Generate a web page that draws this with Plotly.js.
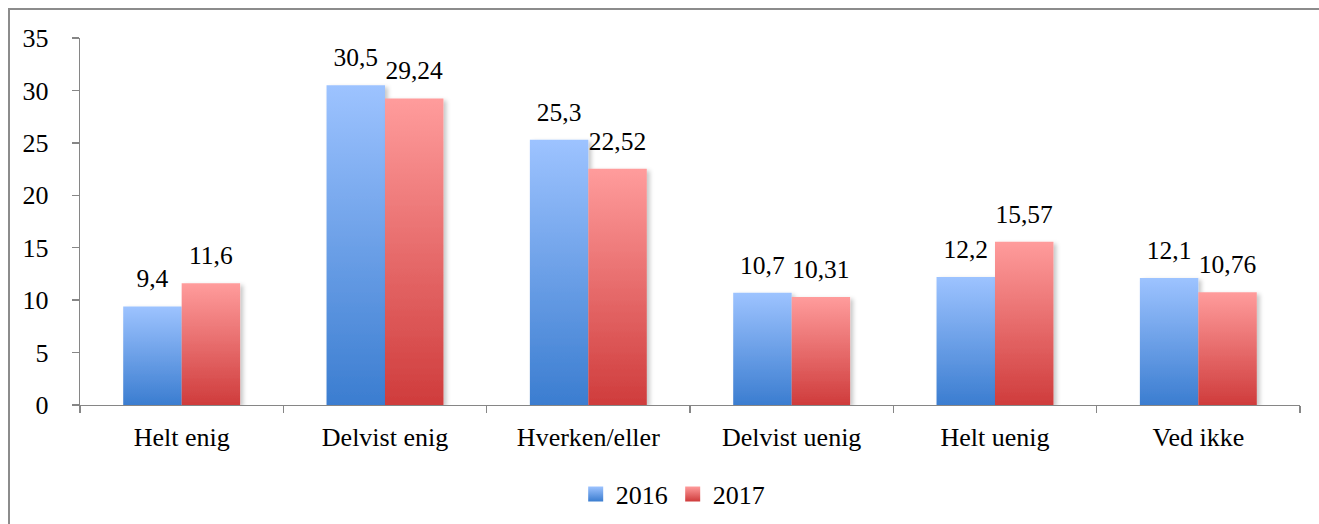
<!DOCTYPE html>
<html>
<head>
<meta charset="utf-8">
<script src="https://cdn.plot.ly/plotly-3.0.1.min.js"></script>
<style>
  html, body { margin: 0; padding: 0; background: #fff; }
  #chart { width: 1319px; height: 524px; }
</style>
</head>
<body>
<div id="chart"></div>
<script>
var categories = ["Helt enig", "Delvist enig", "Hverken/eller", "Delvist uenig", "Helt uenig", "Ved ikke"];
var values2016 = [9.4, 30.5, 25.3, 10.7, 12.2, 12.1];
var values2017 = [11.6, 29.24, 22.52, 10.31, 15.57, 10.76];
var seriesNames = ["2016", "2017"];
var yTicks = [0, 5, 10, 15, 20, 25, 30, 35];

var FONT = "Liberation Serif, Times New Roman, serif";

var traces = [
  {
    type: "bar", name: seriesNames[0], x: categories, y: values2016,
    marker: { color: "#6A9BE8" },
    texttemplate: "%{y}", textposition: "outside", cliponaxis: false,
    textfont: { family: FONT, size: 25.5, color: "#000" },
    hoverinfo: "x+y"
  },
  {
    type: "bar", name: seriesNames[1], x: categories, y: values2017,
    marker: { color: "#E86A6A" },
    texttemplate: "%{y}", textposition: "outside", cliponaxis: false,
    textfont: { family: FONT, size: 25.5, color: "#000" },
    hoverinfo: "x+y"
  }
];

var layout = {
  width: 1319, height: 524,
  margin: { l: 80, r: 19, t: 38, b: 119 },
  paper_bgcolor: "#fff", plot_bgcolor: "#fff",
  separators: ",.",
  barmode: "group", bargap: 0.425, bargroupgap: 0,
  font: { family: FONT, size: 25, color: "#000" },
  showlegend: true,
  legend: {
    orientation: "h", x: 0.51, xanchor: "center", xref: "container",
    y: 30 / 524, yanchor: "middle", yref: "container",
    font: { family: FONT, size: 26, color: "#000" },
    itemwidth: 30, tracegroupgap: 0
  },
  xaxis: {
    type: "category",
    showline: true, linecolor: "#868686", linewidth: 1.3,
    ticks: "outside", tickson: "boundaries", ticklen: 7, tickcolor: "#868686", tickwidth: 1.3,
    showgrid: false, zeroline: false,
    tickfont: { family: FONT, size: 26, color: "#000" },
    ticklabelstandoff: 8,
    fixedrange: true
  },
  yaxis: {
    range: [0, 35], tickvals: yTicks,
    showline: true, linecolor: "#868686", linewidth: 1.3,
    ticks: "outside", ticklen: 7, tickcolor: "#868686", tickwidth: 1.3,
    showgrid: false, zeroline: false,
    tickfont: { family: FONT, size: 26, color: "#000" },
    ticklabelstandoff: 18,
    fixedrange: true
  },
  shapes: [
    {
      type: "rect", xref: "paper", yref: "paper",
      x0: (9 - 80) / 1220, x1: (1340 - 80) / 1220,
      y0: (405 - 560) / 367, y1: (405 - 9) / 367,
      line: { color: "#8C8C8C", width: 2 }, fillcolor: "rgba(0,0,0,0)", layer: "below"
    }
  ]
};

Plotly.newPlot("chart", traces, layout, { displayModeBar: false, staticPlot: true }).then(function (gd) {
  var svg = gd.querySelector("svg.main-svg");
  var ns = "http://www.w3.org/2000/svg";
  var defs = svg.querySelector("defs") || svg.insertBefore(document.createElementNS(ns, "defs"), svg.firstChild);
  function grad(id, top, bottom) {
    var g = document.createElementNS(ns, "linearGradient");
    g.setAttribute("id", id);
    g.setAttribute("x1", "0"); g.setAttribute("y1", "0");
    g.setAttribute("x2", "0"); g.setAttribute("y2", "1");
    var s1 = document.createElementNS(ns, "stop");
    s1.setAttribute("offset", "0"); s1.setAttribute("stop-color", top);
    var s2 = document.createElementNS(ns, "stop");
    s2.setAttribute("offset", "1"); s2.setAttribute("stop-color", bottom);
    g.appendChild(s1); g.appendChild(s2);
    defs.appendChild(g);
  }
  grad("gradBlue", "#9DC3FF", "#3B7DD0");
  grad("gradRed", "#FF9C9C", "#CF3C3C");
  var f = document.createElementNS(ns, "filter");
  f.setAttribute("id", "barShadow");
  f.setAttribute("x", "-10%"); f.setAttribute("y", "-10%");
  f.setAttribute("width", "130%"); f.setAttribute("height", "130%");
  f.innerHTML = '<feDropShadow dx="3" dy="2" stdDeviation="2" flood-color="#000" flood-opacity="0.22"/>';
  defs.appendChild(f);
  var ids = ["gradBlue", "gradRed"];
  var barTraces = gd.querySelectorAll("g.trace.bars");
  barTraces.forEach(function (t, i) {
    t.querySelectorAll("path").forEach(function (p) {
      p.style.fill = "url(#" + ids[i] + ")";
      p.setAttribute("filter", "url(#barShadow)");
    });
    t.querySelectorAll("text").forEach(function (tx) {
      var tr = tx.getAttribute("transform") || "";
      tx.setAttribute("transform", "translate(0,-10) " + tr);
    });
  });
  var legendItems = gd.querySelectorAll("g.legend g.traces");
  legendItems.forEach(function (t, i) {
    t.querySelectorAll("g.legendpoints path").forEach(function (p) {
      p.setAttribute("d", "M7.5,7.5H-7.5V-7.5H7.5Z");
      p.style.fill = "url(#" + ids[i] + ")";
      p.style.stroke = "none";
    });
  });
});
</script>
</body>
</html>
